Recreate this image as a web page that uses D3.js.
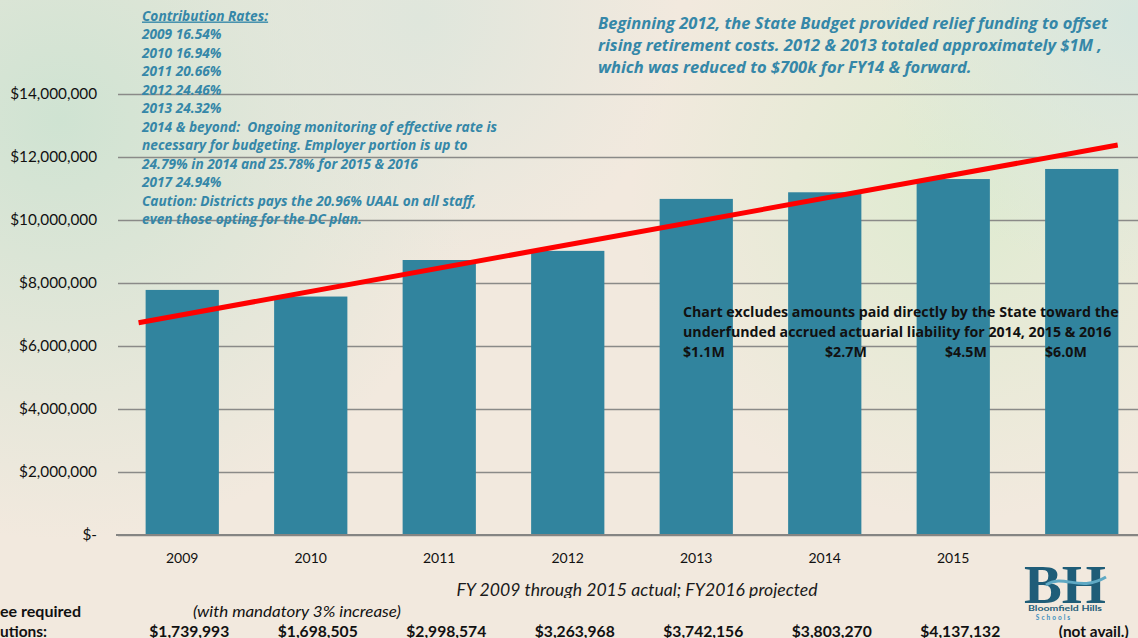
<!DOCTYPE html>
<html>
<head>
<meta charset="utf-8">
<script src="https://cdn.jsdelivr.net/npm/d3@7"></script>
<style>
	body { margin: 0; overflow: hidden; }
	svg { display: block; font-family: Lato, "Open Sans", sans-serif; }
</style>
</head>
<body>
<svg width="1138" height="638"></svg>
<script>
// data
const years = ["2009", "2010", "2011", "2012", "2013", "2014", "2015", "2016"];
const costs = [7780000, 7570000, 8730000, 9020000, 10670000, 10880000, 11300000, 11620000];
const yTicks = [0, 2000000, 4000000, 6000000, 8000000, 10000000, 12000000, 14000000];
// trend line ends (category index, value)
const trendIndex = [-0.34, 7.28];
const trendValue = [6740000, 12380000];
const employeeShare = ["$1,739,993", "$1,698,505", "$2,998,574", "$3,263,968", "$3,742,156", "$3,803,270", "$4,137,132", "(not avail.)"];
const rateNotes = [
	"2009 16.54%",
	"2010 16.94%",
	"2011 20.66%",
	"2012 24.46%",
	"2013 24.32%",
	"2014 & beyond:  Ongoing monitoring of effective rate is",
	"necessary for budgeting. Employer portion is up to",
	"24.79% in 2014 and 25.78% for 2015 & 2016",
	"2017 24.94%",
	"Caution: Districts pays the 20.96% UAAL on all staff,",
	"even those opting for the DC plan."
];
const reliefNotes = [
	"Beginning 2012, the State Budget provided relief funding to offset",
	"rising retirement costs. 2012 & 2013 totaled approximately $1M ,",
	"which was reduced to $700k for FY14 & forward."
];
const excludeNotes = [
	"Chart excludes amounts paid directly by the State toward the",
	"underfunded accrued actuarial liability for 2014, 2015 & 2016"
];
const stateAmounts = ["$1.1M", "$2.7M", "$4.5M", "$6.0M"];

const teal = "#31849e";
const noteColor = "#3587a8";

const svg = d3.select("svg");
const W = 1138, H = 638;
const margin = { top: 94, left: 118, bottom: 535 };

// background
const defs = svg.append("defs");
const glows = [
	{ id: "g1", cx: 60, cy: 120, r: 420, c: "#cfe3d2" },
	{ id: "g2", cx: 960, cy: 190, r: 330, c: "#deebd0" },
	{ id: "g3", cx: 1138, cy: 20, r: 260, c: "#d6e6de" },
	{ id: "g4", cx: 420, cy: 20, r: 260, c: "#dfe6dc" }
];
svg.append("rect").attr("width", W).attr("height", H).attr("fill", "#f2e9de");
glows.forEach(g => {
	const rg = defs.append("radialGradient").attr("id", g.id)
		.attr("gradientUnits", "userSpaceOnUse")
		.attr("cx", g.cx).attr("cy", g.cy).attr("r", g.r);
	rg.append("stop").attr("offset", 0).attr("stop-color", g.c).attr("stop-opacity", 1);
	rg.append("stop").attr("offset", 1).attr("stop-color", g.c).attr("stop-opacity", 0);
	svg.append("rect").attr("width", W).attr("height", H).attr("fill", `url(#${g.id})`);
});

const x = d3.scaleBand().domain(years).range([margin.left, margin.left + 8 * 128.5]).paddingInner(0.43).paddingOuter(0.215);
const y = d3.scaleLinear().domain([0, 14000000]).range([margin.bottom, margin.top]);
const cx = d => x(d) + x.bandwidth() / 2;
const xi = d3.scaleLinear().domain([0, years.length - 1]).range([cx(years[0]), cx(years[years.length - 1])]);

// grid + y axis
const yAxis = d3.axisLeft(y).tickValues(yTicks)
	.tickSize(-(W - margin.left)).tickPadding(21)
	.tickFormat(d => d === 0 ? "$-" : "$" + d3.format(",")(d));
const gY = svg.append("g").attr("transform", `translate(${margin.left},0)`).call(yAxis);
gY.select(".domain").remove();
gY.selectAll(".tick line").attr("stroke", "#8a8a88").attr("stroke-width", 1.3);
gY.selectAll(".tick text").attr("fill", "#111").attr("font-size", 15.3).attr("font-family", "Lato, sans-serif");

// left notes
const notes = svg.append("g").attr("fill", noteColor).attr("font-family", "'Open Sans', sans-serif")
	.attr("font-weight", 700).attr("font-style", "italic").attr("font-size", 13.7);
notes.append("text").attr("x", 142).attr("y", 20.5).attr("text-decoration", "underline").text("Contribution Rates:");
notes.selectAll(".rate").data(rateNotes).join("text")
	.attr("class", "rate").attr("x", 142).attr("y", (d, i) => 39 + i * 18.5)
	.attr("xml:space", "preserve").text(d => d);

// bars
svg.append("g").attr("fill", teal)
	.selectAll("rect").data(costs).join("rect")
	.attr("x", (d, i) => x(years[i]))
	.attr("y", d => y(d))
	.attr("width", x.bandwidth())
	.attr("height", d => y(0) - y(d));

// baseline
svg.append("line").attr("x1", margin.left - 2).attr("x2", W)
	.attr("y1", y(0)).attr("y2", y(0)).attr("stroke", "#858583").attr("stroke-width", 2);

// x labels
svg.append("g").attr("font-size", 14).attr("fill", "#111").attr("text-anchor", "middle")
	.selectAll("text").data(years.slice(0, 7)).join("text")
	.attr("x", d => cx(d)).attr("y", 563).text(d => d);

// trend line
svg.append("line")
	.attr("x1", xi(trendIndex[0])).attr("y1", y(trendValue[0]))
	.attr("x2", xi(trendIndex[1])).attr("y2", y(trendValue[1]))
	.attr("stroke", "#ff0000").attr("stroke-width", 5);

// right-top note
svg.append("g").attr("fill", noteColor).attr("font-family", "'Open Sans', sans-serif")
	.attr("font-weight", 700).attr("font-style", "italic").attr("font-size", 16.5)
	.selectAll("text").data(reliefNotes).join("text")
	.attr("x", 598).attr("y", (d, i) => 29 + i * 22).text(d => d);

// exclusion note
const ex = svg.append("g").attr("fill", "#111").attr("font-family", "'Open Sans', sans-serif")
	.attr("font-weight", 700).attr("font-size", 14.2);
ex.selectAll(".ex").data(excludeNotes).join("text")
	.attr("class", "ex").attr("x", 683).attr("y", (d, i) => 317 + i * 20).text(d => d);
const amountX = [683, 825, 945, 1045];
ex.selectAll(".amt").data(stateAmounts).join("text")
	.attr("class", "amt").attr("x", (d, i) => amountX[i]).attr("y", 357).text(d => d);

// footer
defs.append("clipPath").attr("id", "cut").append("rect").attr("x", 0).attr("y", 0).attr("width", W).attr("height", 598);
svg.append("text").attr("clip-path", "url(#cut)")
	.attr("x", 637).attr("y", 596).attr("text-anchor", "middle")
	.attr("font-style", "italic").attr("font-size", 17).attr("fill", "#1a1a1a")
	.attr("textLength", 361).attr("lengthAdjust", "spacingAndGlyphs")
	.text("FY 2009 through 2015 actual; FY2016 projected");

const foot = svg.append("g").attr("fill", "#111").attr("font-size", 15);
foot.append("text").attr("x", 0).attr("y", 617).attr("font-weight", 700)
	.attr("textLength", 81).attr("lengthAdjust", "spacingAndGlyphs").text("ee required");
foot.append("text").attr("x", 193).attr("y", 617).attr("font-style", "italic")
	.attr("textLength", 208).attr("lengthAdjust", "spacingAndGlyphs").text("(with mandatory 3% increase)");
foot.append("text").attr("x", 0).attr("y", 637).attr("font-weight", 700)
	.attr("textLength", 47).attr("lengthAdjust", "spacingAndGlyphs").text("utions:");
foot.selectAll(".emp").data(employeeShare).join("text")
	.attr("class", "emp").attr("font-weight", 700).attr("text-anchor", "middle")
	.attr("x", (d, i) => cx(years[i]) + 7 + (i === 7 ? 5 : 0)).attr("y", 637)
	.attr("textLength", (d, i) => i === 7 ? 70 : 80).attr("lengthAdjust", "spacingAndGlyphs")
	.text(d => d);

// logo
const logo = svg.append("g").attr("transform", "translate(1024,563)");
logo.append("text").attr("x", 41).attr("y", 40).attr("text-anchor", "middle")
	.attr("font-family", "Liberation Serif, serif").attr("font-weight", 700).attr("font-size", 54)
	.attr("fill", "#1f5d78").attr("textLength", 82).attr("lengthAdjust", "spacingAndGlyphs").text("BH");
logo.append("path").attr("d", "M22,22 C40,10 55,30 82,14")
	.attr("fill", "none").attr("stroke", "#5fa9c4").attr("stroke-width", 3);
logo.append("text").attr("x", 41).attr("y", 48).attr("text-anchor", "middle")
	.attr("font-size", 7.5).attr("font-weight", 700).attr("fill", "#1f5d78")
	.attr("textLength", 74).attr("lengthAdjust", "spacingAndGlyphs").text("Bloomfield Hills");
logo.append("text").attr("x", 30).attr("y", 57).attr("text-anchor", "middle")
	.attr("font-size", 6.5).attr("font-weight", 700).attr("fill", "#3b8fbf")
	.attr("letter-spacing", 2).text("Schools");
</script>
</body>
</html>
